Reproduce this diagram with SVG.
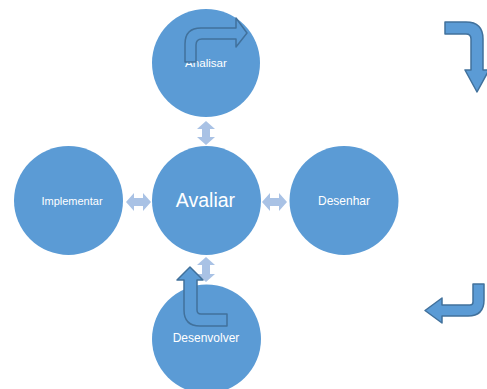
<svg xmlns="http://www.w3.org/2000/svg" width="487" height="389" viewBox="0 0 487 389">
<style>
.c{fill:#5b9bd5}
.t{fill:#ffffff;font-family:"Liberation Sans",Arial,sans-serif;font-size:11px;text-anchor:middle}
.big{font-size:19.5px}
.d{fill:#a9c2e5}
.b{fill:#5b9bd5;stroke:#41719c;stroke-width:1.5;stroke-linejoin:round}
</style>
<rect width="487" height="389" fill="#ffffff"/>
<g id="connectors">
<path class="d" d="M126,202 L134,193 V198 H143 V193 L151,202 L143,211 V206 H134 V211 Z"/>
<path class="d" d="M262,202 L270,193 V198 H279 V193 L287,202 L279,211 V206 H270 V211 Z"/>
<path class="d" d="M206,121 L215,129 H210 V137 H215 L206,145 L197,137 H202 V129 H197 Z"/>
<path class="d" d="M206,257 L215,265 H210 V274 H215 L206,282 L197,274 H202 V265 H197 Z"/>
</g>
<g id="analisar">
<circle class="c" cx="206" cy="63" r="54"/>
<text class="t" x="206" y="67" style="font-size:11.6px">Analisar</text>
</g>
<g id="avaliar">
<circle class="c" cx="206.5" cy="200.5" r="54.5"/>
<text class="t big" x="205.5" y="207">Avaliar</text>
</g>
<g id="implementar">
<circle class="c" cx="68.5" cy="200.5" r="54.5"/>
<text class="t" x="72" y="205">Implementar</text>
</g>
<g id="desenhar">
<circle class="c" cx="344" cy="200.5" r="54.5"/>
<text class="t" x="344" y="205" style="font-size:12px">Desenhar</text>
</g>
<g id="desenvolver">
<circle class="c" cx="206.5" cy="339" r="54.5"/>
<text class="t" x="206" y="342" style="font-size:12px">Desenvolver</text>
</g>
<g id="bent-arrows">
<path class="b" d="M185,62 V44 Q185,28 201,28 H236 V18 L247,33 L236,47 V39 H202 Q196,39 196,45 V62 Z"/>
<path class="b" d="M445,22 H466 Q483,22 483,39 V70 H489 L477,92 L465,70 H471 V39 Q471,34 466,34 H445 Z"/>
<path class="b" d="M484,284 V300 Q484,316 468,316 H442 V323 L425,310.5 L442,298 V305 H470 Q473,305 473,302 V284 Z"/>
<path class="b" d="M184,280 V310 Q184,326 200,326 H227 V314 H201 Q197,314 197,310 V280 H203 L190,267 L177,280 Z"/>
</g>
</svg>
